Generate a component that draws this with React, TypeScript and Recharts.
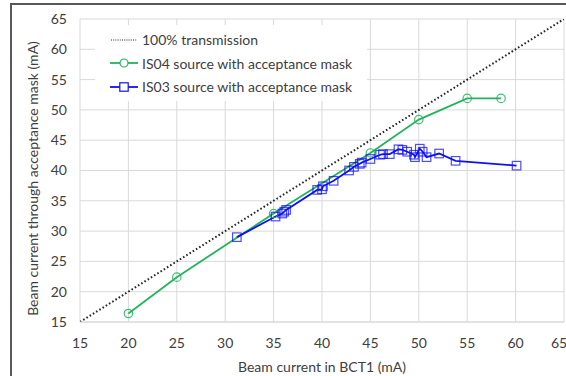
import React from 'react';
import { LineChart, Line, XAxis, YAxis, CartesianGrid, Label } from 'recharts';

// Beam current in BCT1 (mA) vs current through the acceptance mask (mA)
const transmissionCurrent = [15, 65];
const transmissionMasked = [15, 65];

const is04Current = [20, 25, 35, 45, 50, 55, 58.5];
const is04Masked = [16.4, 22.4, 32.9, 42.9, 48.4, 51.9, 51.9];

const is03Current = [
  31.2, 35.2, 35.9, 36.1, 36.3, 39.5, 40.0, 40.1, 41.2, 42.8, 43.3, 43.9, 44.1, 45.0,
  46.0, 46.3, 47.0, 47.9, 48.3, 48.8, 49.5, 49.6, 50.1, 50.4, 50.8, 52.1, 53.8, 60.1,
];
const is03Masked = [
  29.0, 32.4, 32.9, 33.2, 33.5, 36.8, 36.9, 37.4, 38.3, 40.0, 40.6, 41.1, 41.3, 41.9,
  42.6, 42.7, 42.7, 43.5, 43.4, 43.1, 42.6, 42.2, 43.6, 43.1, 42.2, 42.8, 41.6, 40.8,
];

const axisTicks = [15, 20, 25, 30, 35, 40, 45, 50, 55, 60, 65];

const seriesNames = [
  '100% transmission',
  'IS04 source with acceptance mask',
  'IS03 source with acceptance mask',
];

const GREEN = '#22b45c';
const BLUE = '#1010f5';
const DOTTED = '#262626';
const TEXT = '#404040';
const GRID = '#d9d9d9';
const FONT = 'Lato, "Open Sans", sans-serif';
const FONT_SIZE = 14;

const toPoints = (xs: number[], ys: number[]) => xs.map((x, i) => ({ x, y: ys[i] }));

const transmission = toPoints(transmissionCurrent, transmissionMasked);
const is04 = toPoints(is04Current, is04Masked);
const is03 = toPoints(is03Current, is03Masked);

const CircleDot = (props: any) => {
  const { cx, cy } = props;
  if (cx == null || cy == null) return null;
  return <circle cx={cx} cy={cy} r={4.2} fill="none" stroke={GREEN} strokeOpacity={0.85} strokeWidth={1.2} />;
};

const SquareDot = (props: any) => {
  const { cx, cy } = props;
  if (cx == null || cy == null) return null;
  const s = 8.5;
  return (
    <rect x={cx - s / 2} y={cy - s / 2} width={s} height={s} fill="none" stroke={BLUE} strokeOpacity={0.75} strokeWidth={1.2} />
  );
};

const LegendBox = () => {
  const icons = [
    <line x1={2} y1={8} x2={28} y2={8} stroke={DOTTED} strokeWidth={1.2} strokeDasharray="1 1.2" />,
    <g>
      <line x1={1} y1={8} x2={29} y2={8} stroke={GREEN} strokeWidth={1.8} />
      <circle cx={15} cy={8} r={4} fill="#fff" stroke={GREEN} strokeWidth={1.2} />
    </g>,
    <g>
      <line x1={1} y1={8} x2={29} y2={8} stroke={BLUE} strokeWidth={1.8} />
      <rect x={10.8} y={3.8} width={8.4} height={8.4} fill="#fff" stroke={BLUE} strokeWidth={1.2} />
    </g>,
  ];
  return (
    <div
      style={{
        position: 'absolute',
        left: 95,
        top: 25,
        width: 272,
        height: 76,
        background: '#fff',
        paddingTop: 3,
        boxSizing: 'border-box',
      }}
    >
      {seriesNames.map((name, i) => (
        <div key={name} style={{ display: 'flex', alignItems: 'center', height: 23.5, paddingLeft: 14 }}>
          <svg width={30} height={16} style={{ display: 'block' }}>
            {icons[i]}
          </svg>
          <span style={{ marginLeft: 3, fontSize: FONT_SIZE, color: TEXT, fontFamily: FONT, whiteSpace: 'nowrap' }}>{name}</span>
        </div>
      ))}
    </div>
  );
};

const YTitle = (props: any) => {
  const { viewBox } = props;
  const cx = viewBox.x + 32;
  const cy = viewBox.y + viewBox.height / 2 + 8;
  return (
    <text
      x={cx}
      y={cy}
      transform={`rotate(-90 ${cx} ${cy})`}
      textAnchor="middle"
      dominantBaseline="central"
      fill={TEXT}
      fontSize={FONT_SIZE}
      fontFamily={FONT}
    >
      Beam current through acceptance mask (mA)
    </text>
  );
};

const XTitle = (props: any) => {
  const { viewBox } = props;
  const cx = viewBox.x + viewBox.width / 2;
  const cy = viewBox.y + 44;
  return (
    <text x={cx} y={cy} textAnchor="middle" dominantBaseline="central" fill={TEXT} fontSize={FONT_SIZE} fontFamily={FONT}>
      Beam current in BCT1 (mA)
    </text>
  );
};

export default function App() {
  return (
    <div
      style={{
        position: 'absolute',
        left: 0,
        top: 0,
        width: 566,
        height: 376,
        overflow: 'hidden',
        background: '#fff',
        fontFamily: FONT,
      }}
    >
      <div
        style={{
          position: 'absolute',
          left: 10,
          top: 3,
          width: 620,
          height: 420,
          border: '2px solid #585858',
        }}
      />
      <LineChart
        width={566}
        height={376}
        margin={{ top: 19, right: 2, bottom: 0, left: 0 }}
        style={{ position: 'absolute', left: 0, top: 0 }}
      >
        <CartesianGrid stroke={GRID} strokeWidth={1} />
        <XAxis
          type="number"
          dataKey="x"
          domain={[15, 65]}
          ticks={axisTicks}
          allowDataOverflow
          height={54}
          tickLine={false}
          tickSize={6}
          tickMargin={10}
          axisLine={{ stroke: GRID }}
          tick={{ fill: TEXT, fontSize: FONT_SIZE, fontFamily: FONT }}
        >
          <Label content={<XTitle />} />
        </XAxis>
        <YAxis
          type="number"
          dataKey="y"
          domain={[15, 65]}
          ticks={axisTicks}
          allowDataOverflow
          width={80}
          tickLine={false}
          tickSize={6}
          tickMargin={7}
          axisLine={false}
          tick={{ fill: TEXT, fontSize: FONT_SIZE, fontFamily: FONT }}
        >
          <Label content={<YTitle />} />
        </YAxis>
        <Line
          data={transmission}
          dataKey="y"
          name={seriesNames[0]}
          stroke={DOTTED}
          strokeWidth={2}
          strokeDasharray="1.6 2.2"
          dot={false}
          activeDot={false}
          isAnimationActive={false}
        />
        <Line
          data={is04}
          dataKey="y"
          name={seriesNames[1]}
          stroke={GREEN}
          strokeWidth={1.8}
          dot={<CircleDot />}
          activeDot={false}
          isAnimationActive={false}
        />
        <Line
          data={is03}
          dataKey="y"
          name={seriesNames[2]}
          stroke={BLUE}
          strokeWidth={1.8}
          dot={<SquareDot />}
          activeDot={false}
          isAnimationActive={false}
        />
      </LineChart>
      <LegendBox />
    </div>
  );
}
